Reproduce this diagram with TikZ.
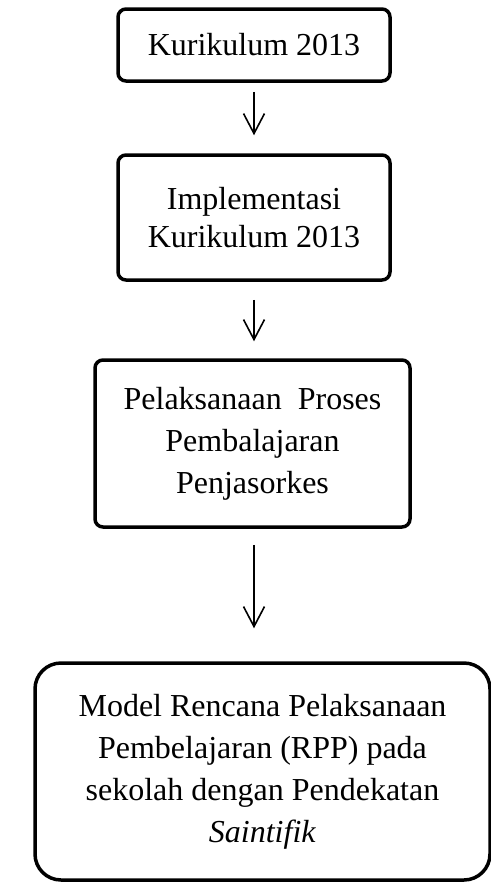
\documentclass[tikz,border=0pt]{standalone}
\usepackage{fontspec}
\setmainfont{Liberation Serif}
\usetikzlibrary{arrows.meta}

\begin{document}
\begin{tikzpicture}[x=0.5pt, y=-0.5pt,
    kotak/.style={draw, line width=1.75pt, rounded corners=4pt, align=center,
        inner sep=0pt, font=\fontsize{16}{21}\selectfont},
    panah/.style={-{Straight Barb[length=10pt, width=10.5pt]}, line width=0.8pt}]
    \useasboundingbox (0,0) rectangle (491,884);
    % kotak alur
    \node[kotak, minimum width=136pt, minimum height=36pt] (kur) at (254,45) {Kurikulum 2013};
    \node[kotak, minimum width=136pt, minimum height=62.5pt, font=\fontsize{16}{19}\selectfont] (impl) at (254,217.5) {Implementasi\\Kurikulum 2013};
    \node[kotak, minimum width=157.5pt, minimum height=83.5pt] (pel) at (252.5,443.5) {Pelaksanaan~ Proses\\Pembalajaran\\Penjasorkes};
    \node[kotak, minimum width=227.5pt, minimum height=108.5pt, rounded corners=13pt] (model) at (262.5,771.5)
        {Model Rencana Pelaksanaan\\Pembelajaran (RPP) pada\\sekolah dengan Pendekatan\\\textit{Saintifik}};
    % panah
    \draw[panah, shorten <=4.5pt, shorten >=9pt] (kur.south) -- (impl.north);
    \draw[panah, shorten <=9pt, shorten >=8.5pt] (impl.south) -- (impl.south |- pel.north);
    \draw[panah, shorten <=8pt, shorten >=16.5pt] (impl.south |- pel.south) -- (impl.south |- model.north);
\end{tikzpicture}
\end{document}
